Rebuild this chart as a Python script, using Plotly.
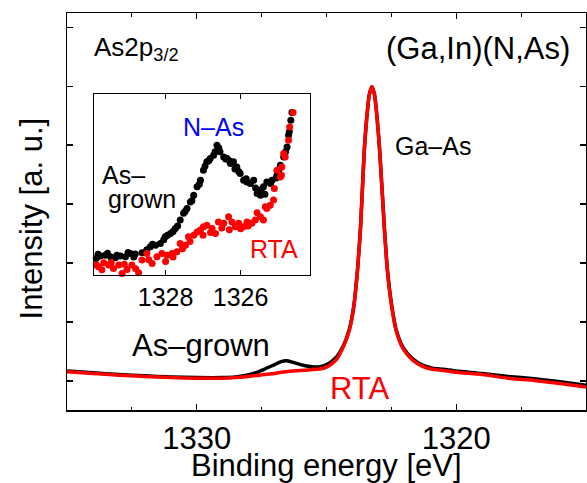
import plotly.graph_objects as go

# ---------------- main spectrum (As2p3/2 core level) ----------------
energy_main = [1335.0, 1334.0, 1333.0, 1332.0, 1331.0, 1330.0, 1329.0, 1328.5, 1328.2, 1327.8,
               1327.4, 1327.0, 1326.75, 1326.55, 1326.3, 1326.0, 1325.7, 1325.4, 1325.2, 1324.95,
               1324.63, 1324.35, 1324.12, 1323.95, 1323.8, 1323.69, 1323.55, 1323.45, 1323.35, 1323.25,
               1323.15, 1323.05, 1322.95, 1322.77, 1322.65, 1322.5, 1322.32, 1322.05, 1321.69, 1321.3,
               1320.92, 1320.5, 1320.0, 1319.0, 1318.0, 1317.0, 1316.0, 1315.0]
intensity_grown = [0.17, 0.14, 0.11, 0.09, 0.07, 0.06, 0.06, 0.07, 0.09, 0.13,
                   0.20, 0.28, 0.33, 0.345, 0.32, 0.28, 0.25, 0.24, 0.25, 0.29,
                   0.40, 0.60, 0.88, 1.27, 1.92, 2.60, 3.87, 4.46, 4.86, 4.99,
                   4.86, 4.46, 3.91, 2.60, 1.88, 1.32, 0.88, 0.57, 0.38, 0.27,
                   0.22, 0.20, 0.17, 0.13, 0.08, 0.04, -0.01, -0.07]
intensity_rta = [0.16, 0.13, 0.10, 0.08, 0.06, 0.05, 0.05, 0.06, 0.07, 0.09,
                 0.11, 0.13, 0.15, 0.16, 0.17, 0.18, 0.19, 0.20, 0.21, 0.25,
                 0.36, 0.58, 0.86, 1.25, 1.90, 2.58, 3.85, 4.45, 4.85, 4.99,
                 4.85, 4.45, 3.90, 2.58, 1.85, 1.30, 0.86, 0.55, 0.36, 0.25,
                 0.20, 0.18, 0.15, 0.11, 0.05, 0.01, -0.04, -0.10]

# ---------------- inset: N-As region ----------------
inset_e_grown = [1329.85, 1329.8, 1329.74, 1329.61, 1329.55, 1329.47, 1329.34, 1329.3, 1329.21, 1329.07,
                 1329.0, 1328.94, 1328.85, 1328.81, 1328.63, 1328.5, 1328.41, 1328.35, 1328.27, 1328.14,
                 1328.05, 1328.01, 1327.95, 1327.87, 1327.8, 1327.74, 1327.68, 1327.61, 1327.52, 1327.48,
                 1327.43, 1327.34, 1327.3, 1327.25, 1327.16, 1327.1, 1327.07, 1326.99, 1326.95, 1326.9,
                 1326.85, 1326.81, 1326.72, 1326.68, 1326.63, 1326.58, 1326.55, 1326.45, 1326.4, 1326.36,
                 1326.3, 1326.27, 1326.19, 1326.15, 1326.1, 1326.05, 1326.01, 1325.92, 1325.85, 1325.83,
                 1325.74, 1325.65, 1325.6, 1325.56, 1325.47, 1325.45, 1325.39, 1325.35, 1325.3, 1325.2,
                 1325.16, 1325.05, 1325.03, 1324.98, 1324.94, 1324.85, 1324.8, 1324.76, 1324.72, 1324.7,
                 1324.66, 1324.63]
inset_i_grown = [9.2, 11.5, 10.5, 11.0, 12.0, 10.1, 9.5, 11.0, 10.5, 10.1,
                 12.5, 11.9, 10.0, 11.6, 12.3, 14.0, 15.6, 17.0, 16.5, 17.4,
                 19.5, 21.1, 22.0, 22.9, 24.0, 25.7, 27.0, 30.3, 34.0, 35.0,
                 36.7, 40.3, 41.0, 44.0, 48.6, 50.0, 52.3, 57.8, 60.0, 62.4,
                 63.0, 64.2, 66.0, 68.0, 71.5, 70.0, 67.9, 65.1, 64.0, 64.2,
                 63.0, 61.5, 62.4, 58.5, 59.6, 57.0, 56.0, 52.3, 53.0, 51.3,
                 50.5, 52.3, 48.0, 45.0, 44.0, 47.0, 48.6, 44.5, 51.3, 50.5,
                 52.3, 53.5, 55.0, 58.0, 60.5, 65.1, 68.0, 70.6, 77.0, 79.0,
                 85.3, 89.5]
inset_e_rta = [1329.85, 1329.79, 1329.7, 1329.65, 1329.52, 1329.45, 1329.39, 1329.25, 1329.16, 1329.1,
               1329.03, 1328.9, 1328.8, 1328.72, 1328.63, 1328.5, 1328.45, 1328.36, 1328.23, 1328.1,
               1328.0, 1327.96, 1327.83, 1327.8, 1327.7, 1327.61, 1327.55, 1327.47, 1327.39, 1327.35,
               1327.25, 1327.16, 1327.07, 1327.0, 1326.99, 1326.9, 1326.8, 1326.76, 1326.67, 1326.59,
               1326.5, 1326.45, 1326.32, 1326.3, 1326.23, 1326.14, 1326.05, 1326.0, 1325.92, 1325.83,
               1325.8, 1325.7, 1325.61, 1325.56, 1325.47, 1325.39, 1325.34, 1325.3, 1325.21, 1325.12,
               1325.1, 1325.03, 1324.94, 1324.91, 1324.9, 1324.85, 1324.81, 1324.72, 1324.69, 1324.6]
inset_i_rta = [5.5, 4.6, 3.0, 6.8, 5.5, 7.0, 3.7, 5.5, 0.9, 6.0,
               3.1, 5.5, 3.5, 1.3, 8.3, 11.9, 8.5, 6.4, 10.1, 11.9,
               7.5, 11.0, 11.9, 10.0, 12.8, 17.4, 14.5, 16.5, 21.1, 18.5,
               22.0, 23.8, 24.8, 22.0, 26.6, 27.5, 23.5, 25.7, 22.9, 29.3,
               26.0, 28.5, 32.1, 25.0, 29.3, 26.6, 28.5, 25.5, 26.6, 29.3,
               27.0, 28.5, 30.3, 34.3, 32.1, 30.3, 37.6, 36.7, 38.5, 41.3,
               47.7, 57.8, 54.1, 55.0, 59.6, 67.0, 65.1, 74.3, 81.6, 89.5]

main_x_ticks = [1330, 1320]
main_y_ticks = [0, 1, 2, 3, 4, 5, 6]
inset_x_ticks = [1328, 1326]

# ---------------- layout geometry (page pixels) ----------------
W, H = 587, 483
PLOT_L, PLOT_R, PLOT_T, PLOT_B = 66.7, 585.7, 12.7, 410.0   # target plot frame
L, T, R, B = PLOT_L, PLOT_T, W - PLOT_R, H - PLOT_B
PW, PH = PLOT_R - PLOT_L, PLOT_B - PLOT_T
FONT = "Liberation Sans, Arial, sans-serif"


def paper(xp, yp):
    return (xp - PLOT_L) / PW, (PLOT_B - yp) / PH


fig = go.Figure()
fig.add_trace(go.Scatter(x=energy_main, y=intensity_grown, mode="lines",
                         line=dict(color="black", width=3.5, shape="spline", smoothing=0.6),
                         showlegend=False, xaxis="x", yaxis="y"))
fig.add_trace(go.Scatter(x=energy_main, y=intensity_rta, mode="lines",
                         line=dict(color="#ff0000", width=3.5, shape="spline", smoothing=0.6),
                         showlegend=False, xaxis="x", yaxis="y"))
fig.add_trace(go.Scatter(x=inset_e_grown, y=inset_i_grown, mode="markers",
                         marker=dict(color="black", size=7), cliponaxis=False,
                         showlegend=False, xaxis="x2", yaxis="y2"))
fig.add_trace(go.Scatter(x=inset_e_rta, y=inset_i_rta, mode="markers",
                         marker=dict(color="#ff0000", size=7), cliponaxis=False,
                         showlegend=False, xaxis="x2", yaxis="y2"))

ix0, iy1 = paper(93.7, 93.3)
ix1, iy0 = paper(310, 275)

axis_common = dict(showgrid=False, zeroline=False, showline=True, linecolor="black",
                   ticks="inside", tickcolor="black")

fig.update_layout(
    width=W, height=H,
    margin=dict(l=L, r=R, t=T, b=B, pad=0, autoexpand=False),
    paper_bgcolor="white", plot_bgcolor="white",
    font=dict(family=FONT, color="black"),
    hovermode=False,
    xaxis=dict(**axis_common, range=[1335, 1315], linewidth=1.5, mirror="ticks",
               tickvals=main_x_ticks, ticklen=6, tickwidth=1.3,
               tickfont=dict(size=31, family=FONT),
               minor=dict(dtick=2.5, tick0=1330, ticks="inside", ticklen=3.5,
                          tickcolor="black", tickwidth=1.2),
               domain=[0, 1]),
    yaxis=dict(**axis_common, range=[-0.49, 6.24], linewidth=1.5, mirror="ticks",
               tickvals=main_y_ticks, ticklen=6, tickwidth=1.3, showticklabels=False,
               domain=[0, 1]),
    xaxis2=dict(**axis_common, range=[1329.91, 1324.14], linewidth=1, mirror="ticks",
                tickvals=inset_x_ticks, ticklen=5, tickwidth=1,
                tickfont=dict(size=25, family=FONT),
                domain=[ix0, ix1], anchor="y2"),
    yaxis2=dict(showgrid=False, zeroline=False, showline=True, linecolor="black",
                linewidth=1, mirror=True, ticks="", showticklabels=False,
                range=[0, 100], domain=[iy0, iy1], anchor="x2"),
)


def add_text(text, xp, yp, size, color="black", xanchor="center"):
    x, y = paper(xp, yp)
    fig.add_annotation(text=text, x=x, y=y, xref="paper", yref="paper",
                       xanchor=xanchor, yanchor="middle", showarrow=False,
                       font=dict(size=size, color=color, family=FONT))


add_text("Binding energy [eV]", 326, 466, 31)
x_t, y_t = paper(31, 218)
fig.add_annotation(text="Intensity [a. u.]", x=x_t, y=y_t, xref="paper", yref="paper",
                   xanchor="center", yanchor="middle", showarrow=False, textangle=-90,
                   font=dict(size=31, family=FONT, color="black"))
add_text("(Ga,In)(N,As)", 477.5, 48, 31)
add_text("As2p<sub>3/2</sub>", 92, 48, 26, xanchor="left")
add_text("Ga–As", 433, 146, 25)
add_text("As–grown", 201, 345, 31)
add_text("RTA", 359.5, 388, 31, color="#ff0000")
add_text("N–As", 212.7, 127, 25, color="#0000ff")
add_text("As–", 100, 175, 25, xanchor="left")
add_text("grown", 106, 199, 25, xanchor="left")
add_text("RTA", 273.8, 249, 25, color="#ff0000")

# the page body gets no default margin / scrollbars so the figure sits at the page origin
fig.write_html("out.html",
               config={"displayModeBar": False, "staticPlot": True},
               post_script="document.body.style.margin='0';"
                           "document.documentElement.style.overflow='hidden';"
                           "document.body.style.overflow='hidden';")
